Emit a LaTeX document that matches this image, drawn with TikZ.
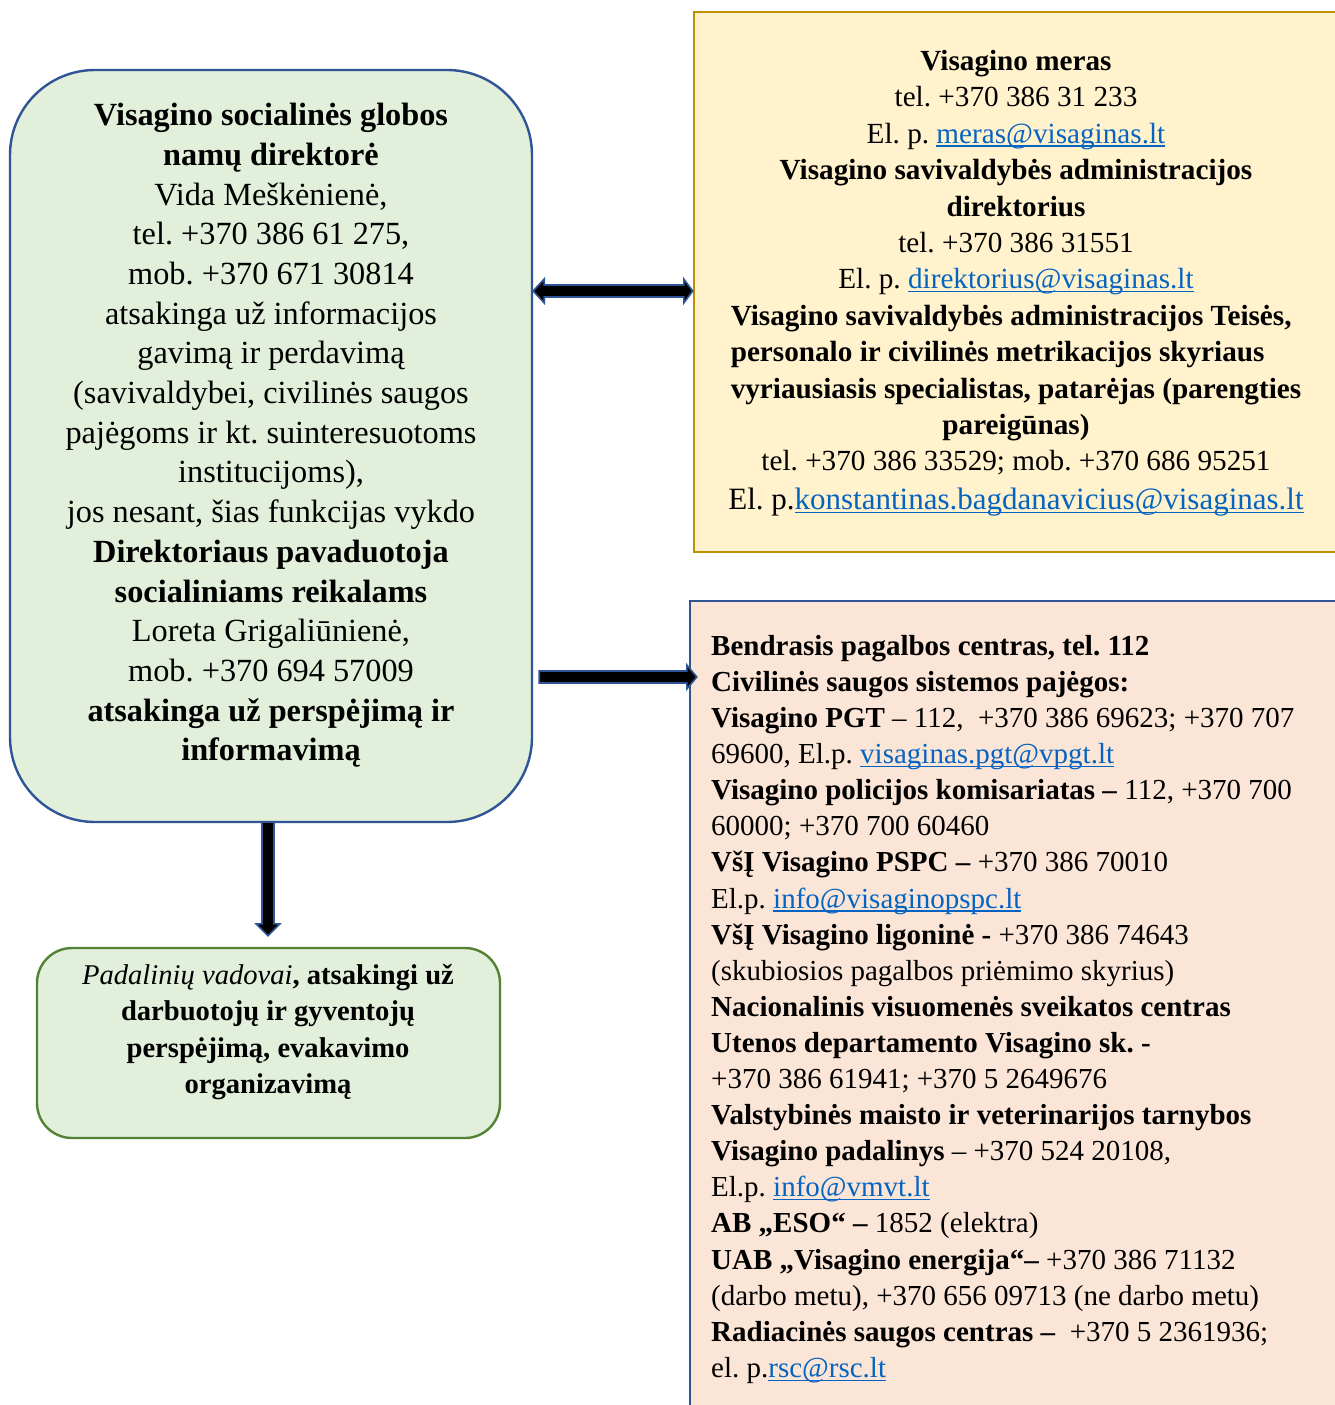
\documentclass[tikz,border=0pt]{standalone}
\usepackage{fontspec}
\setmainfont{Liberation Serif}
\usetikzlibrary{calc}
\definecolor{gfill}{HTML}{E2EFDA}
\definecolor{bblue}{HTML}{2F5597}
\definecolor{yfill}{HTML}{FFF2CC}
\definecolor{yline}{HTML}{BF9000}
\definecolor{pfill}{HTML}{FBE5D6}
\definecolor{gline}{HTML}{548235}
\definecolor{lnkc}{HTML}{0563C1}
\frenchspacing
\newcommand{\lnk}[1]{\textcolor{lnkc}{\setbox0\hbox{#1}\rlap{\rule[-3.5pt]{\wd0}{1.3pt}}\box0}}
\newsavebox{\widebox}
\sbox{\widebox}{\fontsize{29.2}{36.4}\selectfont\bfseries vyriausiasis specialistas, patarėjas (parengties}
\tikzset{
  boxbase/.style={draw, line width=2.4pt, inner sep=0pt},
  dirbox/.style={boxbase, draw=bblue, fill=gfill, rounded corners=85pt, minimum width=522pt, minimum height=752pt},
  merbox/.style={boxbase, draw=yline, fill=yfill, minimum width=651pt, minimum height=540pt},
  pinkbox/.style={boxbase, draw=bblue, fill=pfill, minimum width=655pt, minimum height=814pt},
  botbox/.style={boxbase, draw=gline, fill=gfill, rounded corners=35pt, minimum width=463pt, minimum height=190pt},
  txt/.style={inner sep=0pt, text=black},
  barrow/.style={draw=bblue, fill=black, line width=1.6pt, line join=miter}
}
\begin{document}
\begin{tikzpicture}[x=1pt,y=-1pt]
\useasboundingbox (0,0) rectangle (1335,1405);
\clip (0,0) rectangle (1335,1405);
\fill[white] (0,0) rectangle (1335,1405);

% boxes
\node[dirbox] (dir) at (271,446) {};
\node[merbox] (mer) at (1019.5,282) {};
\node[pinkbox] (pink) at (1017.5,1008) {};
\node[botbox] (bot) at (268.5,1043) {};

% texts
\node[txt, anchor=north, align=center, font=\fontsize{32.3}{39.7}\selectfont] (dirt) at (271,103) {%
\textbf{Visagino socialinės globos}\\
\textbf{namų direktorė}\\
Vida Meškėnienė,\\
tel. +370 386 61 275,\\
mob. +370 671 30814\\
atsakinga už informacijos\\
gavimą ir perdavimą\\
(savivaldybei, civilinės saugos\\
pajėgoms ir kt. suinteresuotoms\\
institucijoms),\\
jos nesant, šias funkcijas vykdo\\
\textbf{Direktoriaus pavaduotoja}\\
\textbf{socialiniams reikalams}\\
Loreta Grigaliūnienė,\\
mob. +370 694 57009\\
\textbf{atsakinga už perspėjimą ir}\\
\textbf{informavimą}};

\node[txt, anchor=north, align=center, font=\fontsize{29.2}{36.4}\selectfont] (mert) at (1016,50) {%
\textbf{Visagino meras}\\
tel. +370 386 31 233\\
El. p. \lnk{meras@visaginas.lt}\\
\textbf{Visagino savivaldybės administracijos}\\
\textbf{direktorius}\\
tel. +370 386 31551\\
El. p. \lnk{direktorius@visaginas.lt}\\
\makebox[\wd\widebox][l]{\textbf{Visagino savivaldybės administracijos Teisės,}}\\
\makebox[\wd\widebox][l]{\textbf{personalo ir civilinės metrikacijos skyriaus}}\\
\usebox{\widebox}\\
\textbf{pareigūnas)}\\
tel. +370 386 33529; mob. +370 686 95251\\[2.6pt]
{\fontsize{31}{36.4}\selectfont El. p.\lnk{konstantinas.bagdanavicius@visaginas.lt}}};

\node[txt, anchor=north west, align=left, font=\fontsize{29}{36.1}\selectfont] (pinkt) at (711,635) {%
\textbf{Bendrasis pagalbos centras, tel. 112}\\
\textbf{Civilinės saugos sistemos pajėgos:}\\
\textbf{Visagino PGT} – 112,\ \ +370 386 69623; +370 707\\
69600, El.p. \lnk{visaginas.pgt@vpgt.lt}\\
\textbf{Visagino policijos komisariatas –} 112, +370 700\\
60000; +370 700 60460\\
\textbf{VšĮ Visagino PSPC –} +370 386 70010\\
El.p. \lnk{info@visaginopspc.lt}\\
\textbf{VšĮ Visagino ligoninė -} +370 386 74643\\
(skubiosios pagalbos priėmimo skyrius)\\
\textbf{Nacionalinis visuomenės sveikatos centras}\\
\textbf{Utenos departamento Visagino sk. -}\\
+370 386 61941; +370 5 2649676\\
\textbf{Valstybinės maisto ir veterinarijos tarnybos}\\
\textbf{Visagino padalinys} – +370 524 20108,\\
El.p. \lnk{info@vmvt.lt}\\
\textbf{AB „ESO“ –} 1852 (elektra)\\
\textbf{UAB „Visagino energija“–} +370 386 71132\\
(darbo metu), +370 656 09713 (ne darbo metu)\\
\textbf{Radiacinės saugos centras –}\ \ +370 5 2361936;\\
el. p.\lnk{rsc@rsc.lt}};

\node[txt, anchor=north, align=center, font=\fontsize{28.6}{36.5}\selectfont] (bott) at (268,964) {%
\textit{Padalinių vadovai}\textbf{, atsakingi už}\\
\textbf{darbuotojų ir gyventojų}\\
\textbf{perspėjimą, evakavimo}\\
\textbf{organizavimą}};

% connectors
\coordinate (y1) at (0,291);
\coordinate (y2) at (0,677);
\coordinate (x3) at (268,0);
\coordinate (a1) at (dir.east |- y1);
\coordinate (b1) at (mer.west |- y1);
\draw[barrow] (a1) -- ++(11,-12) -- ++(0,6) -- ($(b1)+(-9,-6)$) -- ++(0,-6) -- (b1)
  -- ++(-9,12) -- ++(0,-6) -- ($(a1)+(11,6)$) -- ++(0,6) -- cycle;
\coordinate (a2) at ($(dir.east |- y2)+(6,0)$);
\coordinate (b2) at ($(pink.west |- y2)+(8,0)$);
\draw[barrow] ($(a2)+(0,-6)$) -- ($(b2)+(-10,-6)$) -- ++(0,-6) -- (b2) -- ++(-10,12)
  -- ++(0,-6) -- ($(a2)+(0,6)$) -- cycle;
\coordinate (a3) at (dir.south -| x3);
\coordinate (b3) at ($(bot.north -| x3)+(0,-11)$);
\draw[barrow] ($(a3)+(-6,0)$) -- ($(b3)+(-6,-12)$) -- ++(-6,0) -- (b3) -- ++(12,-12)
  -- ++(-6,0) -- ($(a3)+(6,0)$);
\end{tikzpicture}
\end{document}
